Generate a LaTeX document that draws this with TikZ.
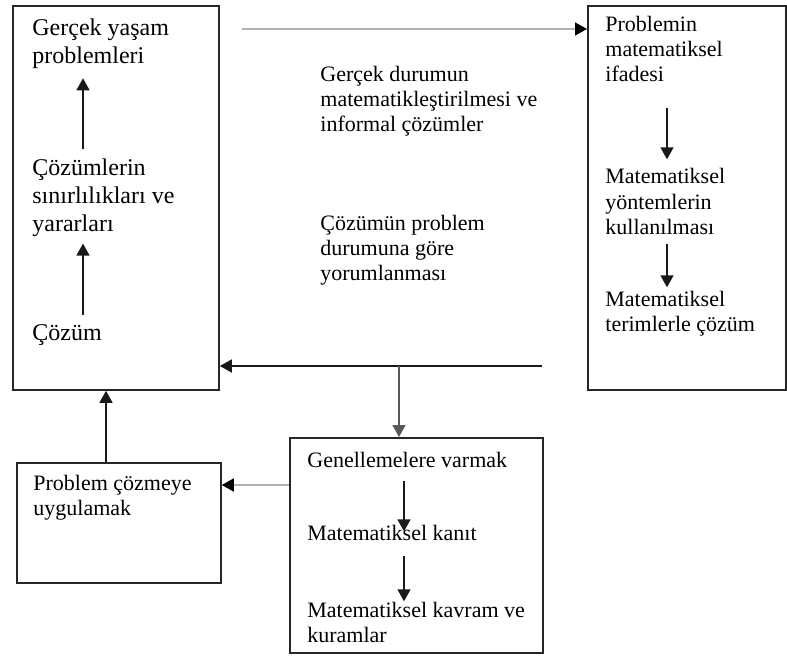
\documentclass[tikz,border=0pt]{standalone}
\usepackage{fontspec}
\setmainfont{Liberation Serif}
\usetikzlibrary{arrows.meta}

\tikzset{
  box/.style={draw=black!85, line width=0.9pt, rectangle, inner sep=0pt, anchor=north west},
  txt/.style={inner sep=0pt, anchor=base west, align=left, font=\fontsize{11}{12.5}\selectfont},
  bigtxt/.style={txt, font=\fontsize{12}{14}\selectfont},
  arr/.style={-{Triangle[length=6pt,width=6.5pt]}, line width=0.7pt, draw=black!90},
  greyarr/.style={-{Triangle[length=6pt,width=6.5pt,color=black]}, line width=0.8pt, draw=gray!60},
}

\begin{document}
\begin{tikzpicture}[x=0.5pt, y=-0.5pt]
  \useasboundingbox (0,0) rectangle (787,658);

  % the four frames
  \node[box, minimum width=103pt, minimum height=192pt] (real) at (12,5) {};
  \node[box, minimum width=99pt, minimum height=192pt] (math) at (587,5) {};
  \node[box, minimum width=102pt, minimum height=60pt] (apply) at (16,462) {};
  \node[box, minimum width=126.5pt, minimum height=107.5pt] (gen) at (289,437) {};

  % real world side (placed at the baseline of the last line)
  \node[bigtxt] (gercek) at (32,64) {Gerçek yaşam\\problemleri};
  \node[bigtxt] (sinir) at (32,231) {Çözümlerin\\sınırlılıkları ve\\yararları};
  \node[bigtxt] (cozum) at (32,340) {Çözüm};

  % between the frames
  \node[txt] (mathz) at (320,132) {Gerçek durumun\\matematikleştirilmesi ve\\informal çözümler};
  \node[txt] (yorum) at (320,280) {Çözümün problem\\durumuna göre\\yorumlanması};

  % mathematical side
  \node[txt] (ifade) at (605,82) {Problemin\\matematiksel\\ifadesi};
  \node[txt] (yontem) at (605,234) {Matematiksel\\yöntemlerin\\kullanılması};
  \node[txt] (terim) at (605,331) {Matematiksel\\terimlerle çözüm};

  % generalisation and application
  \node[txt] (genel) at (307,467) {Genellemelere varmak};
  \node[txt] (kanit) at (307,540) {Matematiksel kanıt};
  \node[txt] (kavram) at (307,642) {Matematiksel kavram ve\\kuramlar};
  \node[txt] (uygula) at (33,515) {Problem çözmeye\\uygulamak};

  \coordinate (lcol) at (83,0);
  \coordinate (rcol) at (667,0);
  \coordinate (bcol) at (404,0);
  \coordinate (lift) at (106,0);
  \coordinate (side) at (0,485);
  \coordinate (start) at (242,29);
  \coordinate (back) at (542,366);
  \coordinate (split) at (399,366);

  % arrows inside the frames
  \draw[arr, shorten <=4.3pt, shorten >=4.4pt] (sinir.north -| lcol) -- (gercek.south -| lcol);
  \draw[arr, shorten <=4.5pt, shorten >=3.5pt] (cozum.north -| lcol) -- (sinir.south -| lcol);
  \draw[arr, shorten <=12.5pt, shorten >=4.5pt] (ifade.south -| rcol) -- (yontem.north -| rcol);
  \draw[arr, shorten <=4.5pt, shorten >=1.5pt] (yontem.south -| rcol) -- (terim.north -| rcol);
  \draw[arr, shorten <=6.5pt, shorten >=-3.5pt] (genel.south -| bcol) -- (kanit.north -| bcol);
  \draw[arr, shorten <=7.5pt] (kanit.south -| bcol) -- (kavram.north -| bcol);

  % the cycle between frames
  \draw[greyarr] (start) -- (start -| math.west);
  \draw[arr] (back) -- (back -| real.east);
  \draw[arr, draw=black!65] (split) -- (split |- gen.north);
  \draw[greyarr] (gen.west |- side) -- (apply.east |- side);
  \draw[arr] (apply.north -| lift) -- (real.south -| lift);
\end{tikzpicture}
\end{document}
